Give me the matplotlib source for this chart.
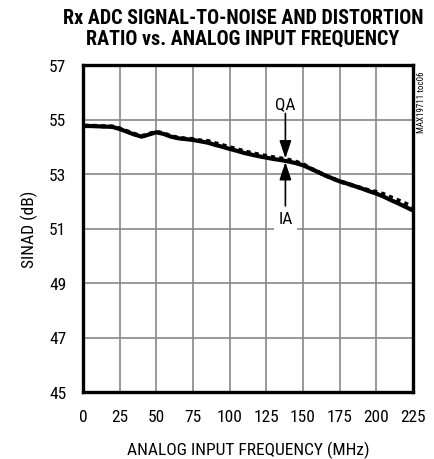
import matplotlib
matplotlib.use("Agg")
import matplotlib.pyplot as plt
from matplotlib import font_manager

names = {f.name for f in font_manager.fontManager.ttflist}
body_font = next((n for n in ['Roboto Condensed', 'PT Sans Narrow', 'Archivo Narrow',
                              'Liberation Sans'] if n in names), 'DejaVu Sans')
plt.rcParams['font.family'] = [body_font, 'DejaVu Sans']

title = "Rx ADC SIGNAL-TO-NOISE AND DISTORTION\nRATIO vs. ANALOG INPUT FREQUENCY"
xlabel = "ANALOG INPUT FREQUENCY (MHz)"
ylabel = "SINAD (dB)"
xticks = [0, 25, 50, 75, 100, 125, 150, 175, 200, 225]
yticks = [45, 47, 49, 51, 53, 55, 57]

freq = [1, 5, 10, 15, 20, 25, 30, 35, 40, 45, 50, 55, 60, 65, 70, 75, 80, 85, 90, 95,
        100, 105, 110, 115, 120, 125, 130, 135, 140, 145, 150, 155, 160, 165, 170, 175,
        180, 185, 190, 195, 200, 205, 210, 215, 220, 225]
sinad_ia = [54.76, 54.76, 54.75, 54.74, 54.73, 54.65, 54.55, 54.45, 54.37, 54.45, 54.53,
            54.47, 54.37, 54.31, 54.28, 54.25, 54.20, 54.15, 54.07, 54.00, 53.92, 53.85,
            53.77, 53.71, 53.65, 53.60, 53.55, 53.51, 53.46, 53.40, 53.32, 53.20, 53.08,
            52.95, 52.84, 52.73, 52.65, 52.56, 52.47, 52.37, 52.28, 52.17, 52.04, 51.92,
            51.79, 51.66]
sinad_qa = [54.77, 54.77, 54.76, 54.75, 54.74, 54.67, 54.57, 54.47, 54.39, 54.47, 54.55,
            54.49, 54.39, 54.33, 54.30, 54.28, 54.23, 54.21, 54.13, 54.06, 53.98, 53.91,
            53.83, 53.77, 53.71, 53.66, 53.61, 53.57, 53.52, 53.45, 53.36, 53.21, 53.08,
            52.95, 52.84, 52.73, 52.65, 52.56, 52.48, 52.40, 52.34, 52.26, 52.14, 52.03,
            51.91, 51.79]

fig = plt.figure(figsize=(4.35, 4.6), dpi=100)
ax = fig.add_axes([83/435, 1-393/460, 330/435, 327/460])

ax.plot(freq, sinad_ia, color='black', lw=3.0, solid_capstyle='round', zorder=3)
ax.plot(freq, sinad_qa, color='black', lw=3.0, linestyle=(0, (1, 1)), zorder=3)

ax.set_xlim(0, 225)
ax.set_ylim(45, 57)
ax.set_xticks(xticks)
ax.set_yticks(yticks)
ax.grid(True, color='#888888', lw=1.2)
ax.set_axisbelow(True)
ax.tick_params(length=0, labelsize=12.5)
ax.tick_params(axis='y', pad=12)
ax.tick_params(axis='x', pad=12)
for s in ax.spines.values():
    s.set_linewidth(2.4)
    s.set_color('black')

ax.set_xlabel(xlabel, fontsize=12.5, labelpad=12)
ax.set_ylabel(ylabel, fontsize=12.5, labelpad=8)

t = fig.text(243/435, 1-9/460, title, ha='center', va='top', fontsize=14,
             fontweight='bold', linespacing=1.12)
fig.canvas.draw()
r = fig.canvas.get_renderer()
w = t.get_window_extent(r).width
t.set_fontsize(14 * 363 / w)

fig.text(422/435, 1-102/460, "MAX19711 toc06", rotation=90, ha='center', va='center',
         fontsize=6.5)

arrow = dict(arrowstyle='-|>,head_length=0.9,head_width=0.3', color='black', lw=1.2,
             mutation_scale=12, shrinkA=0, shrinkB=0)
ax.annotate('', xy=(138, 53.57), xytext=(138, 55.22), arrowprops=arrow, zorder=4)
ax.annotate('', xy=(138, 53.44), xytext=(138, 51.83), arrowprops=arrow, zorder=4)
ax.text(138, 55.60, "QA", ha='center', va='center', fontsize=12.5, zorder=4)
ax.text(138, 51.35, "IA", ha='center', va='center', fontsize=12.5, zorder=4,
        bbox=dict(facecolor='white', edgecolor='none', pad=3))

fig.savefig("out.png", dpi=100)
